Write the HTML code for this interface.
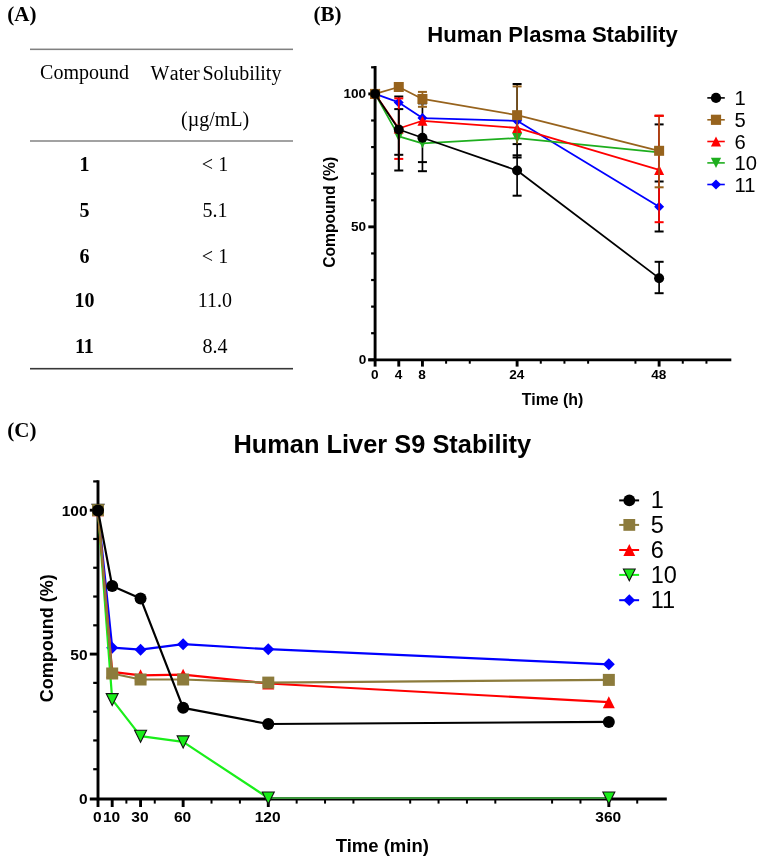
<!DOCTYPE html>
<html><head><meta charset="utf-8"><title>Figure</title>
<style>
html,body{margin:0;padding:0;background:#fff;}
body{width:761px;height:859px;overflow:hidden;}
svg{display:block;}
svg{will-change:transform;}
</style></head>
<body>
<svg width="761" height="859" viewBox="0 0 761 859">
<rect width="761" height="859" fill="#fff"/>
<text x="7.3" y="21.4" font-family='"Liberation Serif", serif' font-size="21" font-weight="bold" text-anchor="start" fill="#000" >(A)</text>
<rect x="30" y="48.55" width="263" height="1.55" fill="#808080"/>
<rect x="30" y="140" width="263" height="2" fill="#a2a2a2"/>
<rect x="30" y="367.9" width="263" height="1.6" fill="#383838"/>
<text x="84.5" y="79.4" font-family='"Liberation Serif", serif' font-size="20" font-weight="normal" text-anchor="middle" fill="#000" >Compound</text>
<text x="216" y="80.2" font-family='"Liberation Serif", serif' font-size="20" font-weight="normal" text-anchor="middle" fill="#000" style="font-kerning:none">W<tspan dx="0.3">ater</tspan> <tspan dx="-2.3">Solubility</tspan></text>
<text x="215.1" y="126" font-family='"Liberation Serif", serif' font-size="20" font-weight="normal" text-anchor="middle" fill="#000" >(µg/mL)</text>
<text x="84.4" y="171.4" font-family='"Liberation Serif", serif' font-size="20" font-weight="bold" text-anchor="middle" fill="#000" >1</text>
<text x="215" y="171.4" font-family='"Liberation Serif", serif' font-size="20" font-weight="normal" text-anchor="middle" fill="#000" >&lt; 1</text>
<text x="84.4" y="216.8" font-family='"Liberation Serif", serif' font-size="20" font-weight="bold" text-anchor="middle" fill="#000" >5</text>
<text x="215" y="216.8" font-family='"Liberation Serif", serif' font-size="20" font-weight="normal" text-anchor="middle" fill="#000" >5.1</text>
<text x="84.4" y="262.8" font-family='"Liberation Serif", serif' font-size="20" font-weight="bold" text-anchor="middle" fill="#000" >6</text>
<text x="215" y="262.8" font-family='"Liberation Serif", serif' font-size="20" font-weight="normal" text-anchor="middle" fill="#000" >&lt; 1</text>
<text x="84.4" y="307.2" font-family='"Liberation Serif", serif' font-size="20" font-weight="bold" text-anchor="middle" fill="#000" >10</text>
<text x="215" y="307.2" font-family='"Liberation Serif", serif' font-size="20" font-weight="normal" text-anchor="middle" fill="#000" >11.0</text>
<text x="84.4" y="352.7" font-family='"Liberation Serif", serif' font-size="20" font-weight="bold" text-anchor="middle" fill="#000" >11</text>
<text x="215" y="352.7" font-family='"Liberation Serif", serif' font-size="20" font-weight="normal" text-anchor="middle" fill="#000" >8.4</text>
<text x="313.4" y="21.3" font-family='"Liberation Serif", serif' font-size="21" font-weight="bold" text-anchor="start" fill="#000" >(B)</text>
<text x="552.6" y="41.8" font-family='"Liberation Sans", sans-serif' font-size="22.1" font-weight="bold" text-anchor="middle" fill="#000" >Human Plasma Stability</text>
<line x1="375.1" y1="66.11" x2="375.1" y2="361" stroke="#000" stroke-width="2.9" stroke-linecap="butt"/>
<line x1="368.3" y1="359.8" x2="731.32" y2="359.8" stroke="#000" stroke-width="2.7" stroke-linecap="butt"/>
<line x1="368.3" y1="359.8" x2="375.1" y2="359.8" stroke="#000" stroke-width="2.9" stroke-linecap="butt"/>
<line x1="371.1" y1="333.21" x2="375.1" y2="333.21" stroke="#000" stroke-width="2.2" stroke-linecap="butt"/>
<line x1="371.1" y1="306.62" x2="375.1" y2="306.62" stroke="#000" stroke-width="2.2" stroke-linecap="butt"/>
<line x1="371.1" y1="280.03" x2="375.1" y2="280.03" stroke="#000" stroke-width="2.2" stroke-linecap="butt"/>
<line x1="371.1" y1="253.44" x2="375.1" y2="253.44" stroke="#000" stroke-width="2.2" stroke-linecap="butt"/>
<line x1="368.3" y1="226.85" x2="375.1" y2="226.85" stroke="#000" stroke-width="2.9" stroke-linecap="butt"/>
<line x1="371.1" y1="200.26" x2="375.1" y2="200.26" stroke="#000" stroke-width="2.2" stroke-linecap="butt"/>
<line x1="371.1" y1="173.67" x2="375.1" y2="173.67" stroke="#000" stroke-width="2.2" stroke-linecap="butt"/>
<line x1="371.1" y1="147.08" x2="375.1" y2="147.08" stroke="#000" stroke-width="2.2" stroke-linecap="butt"/>
<line x1="371.1" y1="120.49" x2="375.1" y2="120.49" stroke="#000" stroke-width="2.2" stroke-linecap="butt"/>
<line x1="368.3" y1="93.9" x2="375.1" y2="93.9" stroke="#000" stroke-width="2.9" stroke-linecap="butt"/>
<line x1="371.1" y1="67.31" x2="375.1" y2="67.31" stroke="#000" stroke-width="2.2" stroke-linecap="butt"/>
<line x1="375.1" y1="359.8" x2="375.1" y2="366.6" stroke="#000" stroke-width="2.9" stroke-linecap="butt"/>
<line x1="398.77" y1="359.8" x2="398.77" y2="366.6" stroke="#000" stroke-width="2.9" stroke-linecap="butt"/>
<line x1="422.44" y1="359.8" x2="422.44" y2="366.6" stroke="#000" stroke-width="2.9" stroke-linecap="butt"/>
<line x1="517.11" y1="359.8" x2="517.11" y2="366.6" stroke="#000" stroke-width="2.9" stroke-linecap="butt"/>
<line x1="659.12" y1="359.8" x2="659.12" y2="366.6" stroke="#000" stroke-width="2.9" stroke-linecap="butt"/>
<line x1="446.1" y1="359.8" x2="446.1" y2="363.7" stroke="#000" stroke-width="2" stroke-linecap="butt"/>
<line x1="469.77" y1="359.8" x2="469.77" y2="363.7" stroke="#000" stroke-width="2" stroke-linecap="butt"/>
<line x1="540.78" y1="359.8" x2="540.78" y2="363.7" stroke="#000" stroke-width="2" stroke-linecap="butt"/>
<line x1="564.44" y1="359.8" x2="564.44" y2="363.7" stroke="#000" stroke-width="2" stroke-linecap="butt"/>
<line x1="588.11" y1="359.8" x2="588.11" y2="363.7" stroke="#000" stroke-width="2" stroke-linecap="butt"/>
<line x1="635.45" y1="359.8" x2="635.45" y2="363.7" stroke="#000" stroke-width="2" stroke-linecap="butt"/>
<line x1="682.78" y1="359.8" x2="682.78" y2="363.7" stroke="#000" stroke-width="2" stroke-linecap="butt"/>
<line x1="706.45" y1="359.8" x2="706.45" y2="363.7" stroke="#000" stroke-width="2" stroke-linecap="butt"/>
<text x="366.2" y="364.1" font-family='"Liberation Sans", sans-serif' font-size="13.6" font-weight="bold" text-anchor="end" fill="#000" >0</text>
<text x="366.2" y="231.15" font-family='"Liberation Sans", sans-serif' font-size="13.6" font-weight="bold" text-anchor="end" fill="#000" >50</text>
<text x="366.2" y="98.2" font-family='"Liberation Sans", sans-serif' font-size="13.6" font-weight="bold" text-anchor="end" fill="#000" >100</text>
<text x="374.8" y="379.4" font-family='"Liberation Sans", sans-serif' font-size="13.6" font-weight="bold" text-anchor="middle" fill="#000" >0</text>
<text x="398.47" y="379.4" font-family='"Liberation Sans", sans-serif' font-size="13.6" font-weight="bold" text-anchor="middle" fill="#000" >4</text>
<text x="422.14" y="379.4" font-family='"Liberation Sans", sans-serif' font-size="13.6" font-weight="bold" text-anchor="middle" fill="#000" >8</text>
<text x="516.81" y="379.4" font-family='"Liberation Sans", sans-serif' font-size="13.6" font-weight="bold" text-anchor="middle" fill="#000" >24</text>
<text x="658.82" y="379.4" font-family='"Liberation Sans", sans-serif' font-size="13.6" font-weight="bold" text-anchor="middle" fill="#000" >48</text>
<text x="552.6" y="405" font-family='"Liberation Sans", sans-serif' font-size="15.9" font-weight="bold" text-anchor="middle" fill="#000" >Time (h)</text>
<text x="335" y="212.3" font-family='"Liberation Sans", sans-serif' font-size="15.6" font-weight="bold" text-anchor="middle" fill="#000" transform="rotate(-90 335 212.3)">Compound (%)</text>
<polyline points="375.1,93.9 398.77,102.41 422.44,118.1 517.11,120.76 659.12,206.64" fill="none" stroke="#0000ff" stroke-width="1.75" stroke-linejoin="round"/>
<line x1="398.77" y1="96.5" x2="398.77" y2="170.5" stroke="#000000" stroke-width="1.7" stroke-linecap="butt"/>
<line x1="394.27" y1="96.5" x2="403.27" y2="96.5" stroke="#000000" stroke-width="2" stroke-linecap="butt"/>
<line x1="394.27" y1="109.1" x2="403.27" y2="109.1" stroke="#000000" stroke-width="2" stroke-linecap="butt"/>
<line x1="394.27" y1="154.8" x2="403.27" y2="154.8" stroke="#000000" stroke-width="2" stroke-linecap="butt"/>
<line x1="394.27" y1="170.5" x2="403.27" y2="170.5" stroke="#000000" stroke-width="2" stroke-linecap="butt"/>
<line x1="422.44" y1="103.4" x2="422.44" y2="171.2" stroke="#000000" stroke-width="1.7" stroke-linecap="butt"/>
<line x1="417.94" y1="103.4" x2="426.94" y2="103.4" stroke="#000000" stroke-width="2" stroke-linecap="butt"/>
<line x1="417.94" y1="162.1" x2="426.94" y2="162.1" stroke="#000000" stroke-width="2" stroke-linecap="butt"/>
<line x1="417.94" y1="171.2" x2="426.94" y2="171.2" stroke="#000000" stroke-width="2" stroke-linecap="butt"/>
<line x1="517.11" y1="84" x2="517.11" y2="195.7" stroke="#000000" stroke-width="1.7" stroke-linecap="butt"/>
<line x1="512.61" y1="84" x2="521.61" y2="84" stroke="#000000" stroke-width="2" stroke-linecap="butt"/>
<line x1="512.61" y1="144.1" x2="521.61" y2="144.1" stroke="#000000" stroke-width="2" stroke-linecap="butt"/>
<line x1="512.61" y1="155.3" x2="521.61" y2="155.3" stroke="#000000" stroke-width="2" stroke-linecap="butt"/>
<line x1="512.61" y1="157.5" x2="521.61" y2="157.5" stroke="#000000" stroke-width="2" stroke-linecap="butt"/>
<line x1="512.61" y1="195.7" x2="521.61" y2="195.7" stroke="#000000" stroke-width="2" stroke-linecap="butt"/>
<line x1="659.12" y1="124.4" x2="659.12" y2="231.5" stroke="#000000" stroke-width="1.7" stroke-linecap="butt"/>
<line x1="654.62" y1="124.4" x2="663.62" y2="124.4" stroke="#000000" stroke-width="2" stroke-linecap="butt"/>
<line x1="654.62" y1="181.5" x2="663.62" y2="181.5" stroke="#000000" stroke-width="2" stroke-linecap="butt"/>
<line x1="654.62" y1="231.5" x2="663.62" y2="231.5" stroke="#000000" stroke-width="2" stroke-linecap="butt"/>
<polygon points="375.1,88.9 380.1,93.9 375.1,98.9 370.1,93.9" fill="#0000ff"/>
<polygon points="398.77,97.41 403.77,102.41 398.77,107.41 393.77,102.41" fill="#0000ff"/>
<polygon points="422.44,113.1 427.44,118.1 422.44,123.1 417.44,118.1" fill="#0000ff"/>
<polygon points="517.11,115.76 522.11,120.76 517.11,125.76 512.11,120.76" fill="#0000ff"/>
<polygon points="659.12,201.64 664.12,206.64 659.12,211.64 654.12,206.64" fill="#0000ff"/>
<polyline points="375.1,93.9 398.77,136.44 422.44,143.36 517.11,138.04 659.12,152.4" fill="none" stroke="#1eae1e" stroke-width="1.75" stroke-linejoin="round"/>
<polygon points="370.1,88.9 380.1,88.9 375.1,98.9" fill="#1eae1e"/>
<polygon points="393.77,131.44 403.77,131.44 398.77,141.44" fill="#1eae1e"/>
<polygon points="417.44,138.36 427.44,138.36 422.44,148.36" fill="#1eae1e"/>
<polygon points="512.11,133.04 522.11,133.04 517.11,143.04" fill="#1eae1e"/>
<polygon points="654.12,147.4 664.12,147.4 659.12,157.4" fill="#1eae1e"/>
<line x1="398.77" y1="98.4" x2="398.77" y2="158.9" stroke="#ff0000" stroke-width="1.7" stroke-linecap="butt"/>
<line x1="394.27" y1="98.4" x2="403.27" y2="98.4" stroke="#ff0000" stroke-width="2" stroke-linecap="butt"/>
<line x1="394.27" y1="158.9" x2="403.27" y2="158.9" stroke="#ff0000" stroke-width="2" stroke-linecap="butt"/>
<line x1="398.77" y1="109.1" x2="398.77" y2="170.5" stroke="#000000" stroke-width="1.9" stroke-linecap="butt"/>
<line x1="659.12" y1="115.8" x2="659.12" y2="222.2" stroke="#ff0000" stroke-width="1.7" stroke-linecap="butt"/>
<line x1="654.62" y1="115.8" x2="663.62" y2="115.8" stroke="#ff0000" stroke-width="2" stroke-linecap="butt"/>
<line x1="654.62" y1="222.2" x2="663.62" y2="222.2" stroke="#ff0000" stroke-width="2" stroke-linecap="butt"/>
<polyline points="375.1,93.9 398.77,128.47 422.44,120.76 517.11,127.94 659.12,169.95" fill="none" stroke="#ff0000" stroke-width="1.75" stroke-linejoin="round"/>
<polygon points="375.1,88.9 380.1,98.9 370.1,98.9" fill="#ff0000"/>
<polygon points="398.77,123.47 403.77,133.47 393.77,133.47" fill="#ff0000"/>
<polygon points="422.44,115.76 427.44,125.76 417.44,125.76" fill="#ff0000"/>
<polygon points="517.11,122.94 522.11,132.94 512.11,132.94" fill="#ff0000"/>
<polygon points="659.12,164.95 664.12,174.95 654.12,174.95" fill="#ff0000"/>
<line x1="422.44" y1="91.9" x2="422.44" y2="106.8" stroke="#97631d" stroke-width="1.7" stroke-linecap="butt"/>
<line x1="417.94" y1="91.9" x2="426.94" y2="91.9" stroke="#97631d" stroke-width="2" stroke-linecap="butt"/>
<line x1="417.94" y1="106.8" x2="426.94" y2="106.8" stroke="#97631d" stroke-width="2" stroke-linecap="butt"/>
<line x1="517.11" y1="86.4" x2="517.11" y2="144" stroke="#97631d" stroke-width="1.3" stroke-linecap="butt"/>
<line x1="512.61" y1="86.4" x2="521.61" y2="86.4" stroke="#97631d" stroke-width="2" stroke-linecap="butt"/>
<line x1="659.12" y1="115.8" x2="659.12" y2="187.3" stroke="#97631d" stroke-width="1.3" stroke-linecap="butt"/>
<line x1="654.62" y1="115.8" x2="663.62" y2="115.8" stroke="#97631d" stroke-width="2" stroke-linecap="butt"/>
<line x1="654.62" y1="187.3" x2="663.62" y2="187.3" stroke="#97631d" stroke-width="2" stroke-linecap="butt"/>
<polyline points="375.1,93.9 398.77,86.99 422.44,98.95 517.11,115.17 659.12,150.8" fill="none" stroke="#97631d" stroke-width="1.75" stroke-linejoin="round"/>
<rect x="370.1" y="88.9" width="10" height="10" fill="#97631d"/>
<rect x="393.77" y="81.99" width="10" height="10" fill="#97631d"/>
<rect x="417.44" y="93.95" width="10" height="10" fill="#97631d"/>
<rect x="512.11" y="110.17" width="10" height="10" fill="#97631d"/>
<rect x="654.12" y="145.8" width="10" height="10" fill="#97631d"/>
<line x1="654.62" y1="115.8" x2="663.62" y2="115.8" stroke="#ff0000" stroke-width="2" stroke-linecap="butt"/>
<line x1="659.12" y1="261.8" x2="659.12" y2="293.2" stroke="#000000" stroke-width="1.7" stroke-linecap="butt"/>
<line x1="654.62" y1="261.8" x2="663.62" y2="261.8" stroke="#000000" stroke-width="2" stroke-linecap="butt"/>
<line x1="654.62" y1="293.2" x2="663.62" y2="293.2" stroke="#000000" stroke-width="2" stroke-linecap="butt"/>
<polyline points="375.1,93.9 398.77,129.53 422.44,137.77 517.11,170.48 659.12,278.17" fill="none" stroke="#000000" stroke-width="1.75" stroke-linejoin="round"/>
<circle cx="375.1" cy="93.9" r="5" fill="#000000"/>
<circle cx="398.77" cy="129.53" r="5" fill="#000000"/>
<circle cx="422.44" cy="137.77" r="5" fill="#000000"/>
<circle cx="517.11" cy="170.48" r="5" fill="#000000"/>
<circle cx="659.12" cy="278.17" r="5" fill="#000000"/>
<line x1="707.3" y1="97.9" x2="724.8" y2="97.9" stroke="#000000" stroke-width="1.6" stroke-linecap="butt"/>
<circle cx="716" cy="97.9" r="5.1" fill="#000000"/>
<text x="734.6" y="104.9" font-family='"Liberation Sans", sans-serif' font-size="20.2" font-weight="normal" text-anchor="start" fill="#000" >1</text>
<line x1="707.3" y1="119.8" x2="724.8" y2="119.8" stroke="#97631d" stroke-width="1.6" stroke-linecap="butt"/>
<rect x="710.9" y="114.7" width="10.2" height="10.2" fill="#97631d"/>
<text x="734.6" y="126.8" font-family='"Liberation Sans", sans-serif' font-size="20.2" font-weight="normal" text-anchor="start" fill="#000" >5</text>
<line x1="707.3" y1="141.5" x2="724.8" y2="141.5" stroke="#ff0000" stroke-width="1.6" stroke-linecap="butt"/>
<polygon points="716,136.4 721.1,146.6 710.9,146.6" fill="#ff0000"/>
<text x="734.6" y="148.5" font-family='"Liberation Sans", sans-serif' font-size="20.2" font-weight="normal" text-anchor="start" fill="#000" >6</text>
<line x1="707.3" y1="162.9" x2="724.8" y2="162.9" stroke="#1eae1e" stroke-width="1.6" stroke-linecap="butt"/>
<polygon points="710.9,157.8 721.1,157.8 716,168" fill="#1eae1e"/>
<text x="734.6" y="169.9" font-family='"Liberation Sans", sans-serif' font-size="20.2" font-weight="normal" text-anchor="start" fill="#000" >10</text>
<line x1="707.3" y1="184.5" x2="724.8" y2="184.5" stroke="#0000ff" stroke-width="1.6" stroke-linecap="butt"/>
<polygon points="716,179.4 721.1,184.5 716,189.6 710.9,184.5" fill="#0000ff"/>
<text x="734.6" y="191.5" font-family='"Liberation Sans", sans-serif' font-size="20.2" font-weight="normal" text-anchor="start" fill="#000" >11</text>
<text x="7.3" y="437.2" font-family='"Liberation Serif", serif' font-size="21" font-weight="bold" text-anchor="start" fill="#000" >(C)</text>
<text x="382.3" y="452.6" font-family='"Liberation Sans", sans-serif' font-size="25.4" font-weight="bold" text-anchor="middle" fill="#000" >Human Liver S9 Stability</text>
<line x1="98" y1="480.22" x2="98" y2="800.2" stroke="#000" stroke-width="2.9" stroke-linecap="butt"/>
<line x1="89.8" y1="799" x2="666.8" y2="799" stroke="#000" stroke-width="2.9" stroke-linecap="butt"/>
<line x1="93.2" y1="769.22" x2="98" y2="769.22" stroke="#000" stroke-width="2.2" stroke-linecap="butt"/>
<line x1="93.2" y1="740.44" x2="98" y2="740.44" stroke="#000" stroke-width="2.2" stroke-linecap="butt"/>
<line x1="93.2" y1="711.66" x2="98" y2="711.66" stroke="#000" stroke-width="2.2" stroke-linecap="butt"/>
<line x1="93.2" y1="682.88" x2="98" y2="682.88" stroke="#000" stroke-width="2.2" stroke-linecap="butt"/>
<line x1="89.8" y1="654.1" x2="98" y2="654.1" stroke="#000" stroke-width="2.9" stroke-linecap="butt"/>
<line x1="93.2" y1="625.32" x2="98" y2="625.32" stroke="#000" stroke-width="2.2" stroke-linecap="butt"/>
<line x1="93.2" y1="596.54" x2="98" y2="596.54" stroke="#000" stroke-width="2.2" stroke-linecap="butt"/>
<line x1="93.2" y1="567.76" x2="98" y2="567.76" stroke="#000" stroke-width="2.2" stroke-linecap="butt"/>
<line x1="93.2" y1="538.98" x2="98" y2="538.98" stroke="#000" stroke-width="2.2" stroke-linecap="butt"/>
<line x1="89.8" y1="510.2" x2="98" y2="510.2" stroke="#000" stroke-width="2.9" stroke-linecap="butt"/>
<line x1="93.2" y1="481.42" x2="98" y2="481.42" stroke="#000" stroke-width="2.2" stroke-linecap="butt"/>
<line x1="98" y1="799" x2="98" y2="807" stroke="#000" stroke-width="2.9" stroke-linecap="butt"/>
<line x1="112.19" y1="799" x2="112.19" y2="807" stroke="#000" stroke-width="2.9" stroke-linecap="butt"/>
<line x1="140.57" y1="799" x2="140.57" y2="807" stroke="#000" stroke-width="2.9" stroke-linecap="butt"/>
<line x1="183.14" y1="799" x2="183.14" y2="807" stroke="#000" stroke-width="2.9" stroke-linecap="butt"/>
<line x1="268.28" y1="799" x2="268.28" y2="807" stroke="#000" stroke-width="2.9" stroke-linecap="butt"/>
<line x1="608.84" y1="799" x2="608.84" y2="807" stroke="#000" stroke-width="2.9" stroke-linecap="butt"/>
<line x1="126.38" y1="799" x2="126.38" y2="803.6" stroke="#000" stroke-width="2" stroke-linecap="butt"/>
<line x1="154.76" y1="799" x2="154.76" y2="803.6" stroke="#000" stroke-width="2" stroke-linecap="butt"/>
<line x1="211.52" y1="799" x2="211.52" y2="803.6" stroke="#000" stroke-width="2" stroke-linecap="butt"/>
<line x1="239.9" y1="799" x2="239.9" y2="803.6" stroke="#000" stroke-width="2" stroke-linecap="butt"/>
<line x1="296.66" y1="799" x2="296.66" y2="803.6" stroke="#000" stroke-width="2" stroke-linecap="butt"/>
<line x1="325.04" y1="799" x2="325.04" y2="803.6" stroke="#000" stroke-width="2" stroke-linecap="butt"/>
<line x1="353.42" y1="799" x2="353.42" y2="803.6" stroke="#000" stroke-width="2" stroke-linecap="butt"/>
<line x1="410.18" y1="799" x2="410.18" y2="803.6" stroke="#000" stroke-width="2" stroke-linecap="butt"/>
<line x1="438.56" y1="799" x2="438.56" y2="803.6" stroke="#000" stroke-width="2" stroke-linecap="butt"/>
<line x1="466.94" y1="799" x2="466.94" y2="803.6" stroke="#000" stroke-width="2" stroke-linecap="butt"/>
<line x1="495.32" y1="799" x2="495.32" y2="803.6" stroke="#000" stroke-width="2" stroke-linecap="butt"/>
<line x1="552.08" y1="799" x2="552.08" y2="803.6" stroke="#000" stroke-width="2" stroke-linecap="butt"/>
<line x1="580.46" y1="799" x2="580.46" y2="803.6" stroke="#000" stroke-width="2" stroke-linecap="butt"/>
<line x1="637.22" y1="799" x2="637.22" y2="803.6" stroke="#000" stroke-width="2" stroke-linecap="butt"/>
<text x="87.6" y="804.4" font-family='"Liberation Sans", sans-serif' font-size="15.5" font-weight="bold" text-anchor="end" fill="#000" >0</text>
<text x="87.6" y="659.5" font-family='"Liberation Sans", sans-serif' font-size="15.5" font-weight="bold" text-anchor="end" fill="#000" >50</text>
<text x="87.6" y="515.6" font-family='"Liberation Sans", sans-serif' font-size="15.5" font-weight="bold" text-anchor="end" fill="#000" >100</text>
<text x="97.4" y="821.8" font-family='"Liberation Sans", sans-serif' font-size="15.5" font-weight="bold" text-anchor="middle" fill="#000" >0</text>
<text x="111.59" y="821.8" font-family='"Liberation Sans", sans-serif' font-size="15.5" font-weight="bold" text-anchor="middle" fill="#000" >10</text>
<text x="139.97" y="821.8" font-family='"Liberation Sans", sans-serif' font-size="15.5" font-weight="bold" text-anchor="middle" fill="#000" >30</text>
<text x="182.54" y="821.8" font-family='"Liberation Sans", sans-serif' font-size="15.5" font-weight="bold" text-anchor="middle" fill="#000" >60</text>
<text x="267.68" y="821.8" font-family='"Liberation Sans", sans-serif' font-size="15.5" font-weight="bold" text-anchor="middle" fill="#000" >120</text>
<text x="608.24" y="821.8" font-family='"Liberation Sans", sans-serif' font-size="15.5" font-weight="bold" text-anchor="middle" fill="#000" >360</text>
<text x="382.3" y="851.8" font-family='"Liberation Sans", sans-serif' font-size="18.5" font-weight="bold" text-anchor="middle" fill="#000" >Time (min)</text>
<text x="52.9" y="638.2" font-family='"Liberation Sans", sans-serif' font-size="18" font-weight="bold" text-anchor="middle" fill="#000" transform="rotate(-90 52.9 638.2)">Compound (%)</text>
<polyline points="98,510.2 112.19,647.7 140.57,649.7 183.14,644.2 268.28,649.2 608.84,664.3" fill="none" stroke="#0000ff" stroke-width="2.2" stroke-linejoin="round"/>
<polygon points="98,504.2 104,510.2 98,516.2 92,510.2" fill="#0000ff"/>
<polygon points="112.19,641.7 118.19,647.7 112.19,653.7 106.19,647.7" fill="#0000ff"/>
<polygon points="140.57,643.7 146.57,649.7 140.57,655.7 134.57,649.7" fill="#0000ff"/>
<polygon points="183.14,638.2 189.14,644.2 183.14,650.2 177.14,644.2" fill="#0000ff"/>
<polygon points="268.28,643.2 274.28,649.2 268.28,655.2 262.28,649.2" fill="#0000ff"/>
<polygon points="608.84,658.3 614.84,664.3 608.84,670.3 602.84,664.3" fill="#0000ff"/>
<polyline points="98,510.2 112.19,699.6 140.57,736.2 183.14,741.9 268.28,798" fill="none" stroke="#1aee1a" stroke-width="2.2" stroke-linejoin="round"/>
<line x1="268.28" y1="797.9" x2="608.84" y2="797.9" stroke="#3a933a" stroke-width="2" stroke-linecap="butt"/>
<polygon points="92,504.2 104,504.2 98,516.2" fill="#1aee1a" stroke="#111" stroke-width="1.1" stroke-linejoin="miter"/>
<polygon points="106.19,693.6 118.19,693.6 112.19,705.6" fill="#1aee1a" stroke="#111" stroke-width="1.1" stroke-linejoin="miter"/>
<polygon points="134.57,730.2 146.57,730.2 140.57,742.2" fill="#1aee1a" stroke="#111" stroke-width="1.1" stroke-linejoin="miter"/>
<polygon points="177.14,735.9 189.14,735.9 183.14,747.9" fill="#1aee1a" stroke="#111" stroke-width="1.1" stroke-linejoin="miter"/>
<polygon points="262.28,792 274.28,792 268.28,804" fill="#1aee1a" stroke="#111" stroke-width="1.1" stroke-linejoin="miter"/>
<polygon points="602.84,792 614.84,792 608.84,804" fill="#1aee1a" stroke="#111" stroke-width="1.1" stroke-linejoin="miter"/>
<polyline points="98,510.2 112.19,671.8 140.57,675.3 183.14,674.7 268.28,683.5 608.84,702.2" fill="none" stroke="#ff0000" stroke-width="2.2" stroke-linejoin="round"/>
<polygon points="98,504.2 104,516.2 92,516.2" fill="#ff0000"/>
<polygon points="112.19,665.8 118.19,677.8 106.19,677.8" fill="#ff0000"/>
<polygon points="140.57,669.3 146.57,681.3 134.57,681.3" fill="#ff0000"/>
<polygon points="183.14,668.7 189.14,680.7 177.14,680.7" fill="#ff0000"/>
<polygon points="268.28,677.5 274.28,689.5 262.28,689.5" fill="#ff0000"/>
<polygon points="608.84,696.2 614.84,708.2 602.84,708.2" fill="#ff0000"/>
<polyline points="98,510.2 112.19,673.5 140.57,679.5 183.14,679.5 268.28,682.6 608.84,679.9" fill="none" stroke="#8c7b3c" stroke-width="2.2" stroke-linejoin="round"/>
<rect x="92" y="504.2" width="12" height="12" fill="#8c7b3c"/>
<rect x="106.19" y="667.5" width="12" height="12" fill="#8c7b3c"/>
<rect x="134.57" y="673.5" width="12" height="12" fill="#8c7b3c"/>
<rect x="177.14" y="673.5" width="12" height="12" fill="#8c7b3c"/>
<rect x="262.28" y="676.6" width="12" height="12" fill="#8c7b3c"/>
<rect x="602.84" y="673.9" width="12" height="12" fill="#8c7b3c"/>
<polyline points="98,510.4 112.19,586.1 140.57,598.4 183.14,707.8 268.28,724 608.84,721.9" fill="none" stroke="#000000" stroke-width="2.2" stroke-linejoin="round"/>
<circle cx="98" cy="510.4" r="6" fill="#000000"/>
<circle cx="112.19" cy="586.1" r="6" fill="#000000"/>
<circle cx="140.57" cy="598.4" r="6" fill="#000000"/>
<circle cx="183.14" cy="707.8" r="6" fill="#000000"/>
<circle cx="268.28" cy="724" r="6" fill="#000000"/>
<circle cx="608.84" cy="721.9" r="6" fill="#000000"/>
<line x1="619.2" y1="500.4" x2="639.1" y2="500.4" stroke="#000000" stroke-width="2" stroke-linecap="butt"/>
<circle cx="629.3" cy="500.4" r="5.9" fill="#000000"/>
<text x="650.8" y="508.4" font-family='"Liberation Sans", sans-serif' font-size="23.5" font-weight="normal" text-anchor="start" fill="#000" >1</text>
<line x1="619.2" y1="524.9" x2="639.1" y2="524.9" stroke="#8c7b3c" stroke-width="2" stroke-linecap="butt"/>
<rect x="623.4" y="519" width="11.8" height="11.8" fill="#8c7b3c"/>
<text x="650.8" y="532.9" font-family='"Liberation Sans", sans-serif' font-size="23.5" font-weight="normal" text-anchor="start" fill="#000" >5</text>
<line x1="619.2" y1="550" x2="639.1" y2="550" stroke="#ff0000" stroke-width="2" stroke-linecap="butt"/>
<polygon points="629.3,544.1 635.2,555.9 623.4,555.9" fill="#ff0000"/>
<text x="650.8" y="558" font-family='"Liberation Sans", sans-serif' font-size="23.5" font-weight="normal" text-anchor="start" fill="#000" >6</text>
<line x1="619.2" y1="574.9" x2="639.1" y2="574.9" stroke="#1aee1a" stroke-width="2" stroke-linecap="butt"/>
<polygon points="623.4,569 635.2,569 629.3,580.8" fill="#1aee1a" stroke="#111" stroke-width="1.1" stroke-linejoin="miter"/>
<text x="650.8" y="582.9" font-family='"Liberation Sans", sans-serif' font-size="23.5" font-weight="normal" text-anchor="start" fill="#000" >10</text>
<line x1="619.2" y1="600.2" x2="639.1" y2="600.2" stroke="#0000ff" stroke-width="2" stroke-linecap="butt"/>
<polygon points="629.3,594.3 635.2,600.2 629.3,606.1 623.4,600.2" fill="#0000ff"/>
<text x="650.8" y="608.2" font-family='"Liberation Sans", sans-serif' font-size="23.5" font-weight="normal" text-anchor="start" fill="#000" >11</text>
</svg>
</body></html>
